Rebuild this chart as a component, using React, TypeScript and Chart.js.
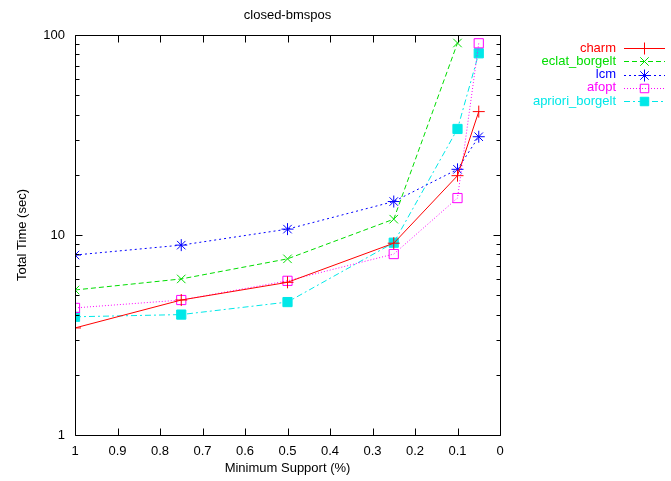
import React, { useEffect, useRef } from 'react';
import { Chart, registerables } from 'chart.js';

Chart.register(...registerables);

const TITLE = 'closed-bmspos';
const X_LABEL = 'Minimum Support (%)';
const Y_LABEL = 'Total Time (sec)';

const supports = [1, 0.75, 0.5, 0.25, 0.1, 0.05];
const xTicks = [1, 0.9, 0.8, 0.7, 0.6, 0.5, 0.4, 0.3, 0.2, 0.1, 0];
const yTicks = [1, 10, 100];

const seriesNames = ['charm', 'eclat_borgelt', 'lcm', 'afopt', 'apriori_borgelt'];
const charm = [3.43, 4.73, 5.8, 9.1, 19.8, 41.4];
const eclat = [5.31, 6.03, 7.6, 12.0, 91.2];
const lcm = [7.94, 8.9, 10.7, 14.7, 21.3, 31.0];
const afopt = [4.32, 4.73, 5.9, 8.03, 15.3, 90.9];
const apriori = [3.9, 4.0, 4.62, 9.15, 33.9, 81.0];

const colors = ['#ff0000', '#00dd00', '#0000ff', '#ff00ff', '#00e8e8'];
const dashes = [[], [5, 3], [2, 3], [1, 2], [6, 3, 2, 3]];
const markers = ['cross', 'crossRot', 'star', 'rect', 'rect'];
const filled = [false, false, false, false, true];

const FAMILY = '"Liberation Sans", Arial, sans-serif';
const FONT = '13px ' + FAMILY;

function drawMarker(ctx: CanvasRenderingContext2D, style: string, x: number, y: number, r: number, color: string, fill: boolean) {
  ctx.save();
  ctx.setLineDash([]);
  ctx.strokeStyle = color;
  ctx.fillStyle = color;
  ctx.lineWidth = 1;
  ctx.beginPath();
  const d = r * Math.SQRT1_2;
  if (style === 'cross' || style === 'star') {
    ctx.moveTo(x - r, y); ctx.lineTo(x + r, y);
    ctx.moveTo(x, y - r); ctx.lineTo(x, y + r);
  }
  if (style === 'crossRot' || style === 'star') {
    ctx.moveTo(x - d, y - d); ctx.lineTo(x + d, y + d);
    ctx.moveTo(x - d, y + d); ctx.lineTo(x + d, y - d);
  }
  if (style === 'rect') {
    ctx.rect(x - d, y - d, 2 * d, 2 * d);
    if (fill) ctx.fill();
  }
  ctx.stroke();
  ctx.restore();
}

const decorPlugin = {
  id: 'decor',
  afterDraw(chart: any) {
    const ctx: CanvasRenderingContext2D = chart.ctx;
    const { left, right, top, bottom } = chart.chartArea;
    const xs = chart.scales.x;
    const ys = chart.scales.y;
    ctx.save();
    ctx.strokeStyle = '#000';
    ctx.lineWidth = 1;
    ctx.setLineDash([]);
    const L = Math.round(left) + 0.5, R = Math.round(right) + 0.5;
    const T = Math.round(top) + 0.5, B = Math.round(bottom) + 0.5;
    ctx.beginPath();
    ctx.rect(L, T, R - L, B - T);
    xTicks.forEach((v) => {
      const px = Math.round(xs.getPixelForValue(v)) + 0.5;
      ctx.moveTo(px, B); ctx.lineTo(px, B - 7);
      ctx.moveTo(px, T); ctx.lineTo(px, T + 7);
    });
    for (let dec = 1; dec < 100; dec *= 10) {
      for (let m = 1; m <= 9; m++) {
        const v = dec * m;
        const py = Math.round(ys.getPixelForValue(v)) + 0.5;
        const len = m === 1 ? 7 : 4;
        ctx.moveTo(L, py); ctx.lineTo(L + len, py);
        ctx.moveTo(R, py); ctx.lineTo(R - len, py);
      }
    }
    const p100 = Math.round(ys.getPixelForValue(100)) + 0.5;
    ctx.moveTo(L, p100); ctx.lineTo(L + 7, p100);
    ctx.moveTo(R, p100); ctx.lineTo(R - 7, p100);
    ctx.stroke();

    ctx.fillStyle = '#000';
    ctx.font = FONT;
    ctx.textAlign = 'center';
    ctx.textBaseline = 'middle';
    const cx = (left + right) / 2;
    ctx.fillText(TITLE, cx, 15);
    ctx.fillText(X_LABEL, cx, 468);
    ctx.save();
    ctx.translate(22, (top + bottom) / 2);
    ctx.rotate(-Math.PI / 2);
    ctx.fillText(Y_LABEL, 0, 0);
    ctx.restore();

    const lx0 = 624, lx1 = 665, tx = 616;
    seriesNames.forEach((name, i) => {
      const y = 48 + i * 13.3;
      ctx.fillStyle = colors[i];
      ctx.textAlign = 'right';
      ctx.fillText(name, tx, y);
      ctx.strokeStyle = colors[i];
      ctx.setLineDash(dashes[i]);
      ctx.beginPath();
      ctx.moveTo(lx0, Math.round(y) + 0.5);
      ctx.lineTo(lx1, Math.round(y) + 0.5);
      ctx.stroke();
      drawMarker(ctx, markers[i], (lx0 + lx1) / 2, Math.round(y) + 0.5, 6, colors[i], filled[i]);
    });
    ctx.restore();
  },
};

export default function App() {
  const ref = useRef<HTMLCanvasElement>(null);
  useEffect(() => {
    if (!ref.current) return;
    const allData = [charm, eclat, lcm, afopt, apriori];
    const chart = new Chart(ref.current, {
      type: 'line',
      data: {
        datasets: seriesNames.map((name, i) => ({
          label: name,
          data: allData[i].map((v, j) => ({ x: supports[j], y: v })),
          borderColor: colors[i],
          backgroundColor: filled[i] ? colors[i] : 'rgba(0,0,0,0)',
          pointBorderColor: colors[i],
          pointBackgroundColor: filled[i] ? colors[i] : 'rgba(0,0,0,0)',
          borderWidth: 1,
          borderDash: dashes[i],
          pointStyle: markers[i] as any,
          pointRadius: markers[i] === 'rect' ? 6.5 : 6,
          pointBorderWidth: 1,
          fill: false,
          tension: 0,
        })),
      },
      plugins: [decorPlugin],
      options: {
        animation: false,
        responsive: false,
        devicePixelRatio: 1,
        layout: { padding: { top: 35, right: 171, left: 0, bottom: 0 } },
        plugins: { legend: { display: false }, title: { display: false }, tooltip: { enabled: false } },
        scales: {
          x: {
            type: 'linear',
            reverse: true,
            min: 0,
            max: 1,
            grid: { display: false, drawTicks: false },
            border: { display: false },
            afterBuildTicks: (s: any) => { s.ticks = xTicks.map((v) => ({ value: v })); },
            afterFit: (s: any) => { s.height = 46; },
            ticks: {
              color: '#000',
              font: { family: FAMILY, size: 13 },
              padding: 9,
              maxRotation: 0,
              autoSkip: false,
              callback: (v: any) => String(Number(Number(v).toFixed(1))),
            },
          },
          y: {
            type: 'logarithmic',
            min: 1,
            max: 100,
            grid: { display: false, drawTicks: false },
            border: { display: false },
            afterBuildTicks: (s: any) => { s.ticks = yTicks.map((v) => ({ value: v })); },
            afterFit: (s: any) => { s.width = 75; },
            ticks: {
              color: '#000',
              font: { family: FAMILY, size: 13 },
              padding: 10,
              autoSkip: false,
              callback: (v: any) => String(v),
            },
          },
        },
      },
    });
    return () => chart.destroy();
  }, []);
  return (
    <div style={{ position: 'absolute', left: 0, top: 0, width: 671, height: 481, background: '#fff' }}>
      <canvas ref={ref} width={671} height={481} />
    </div>
  );
}
